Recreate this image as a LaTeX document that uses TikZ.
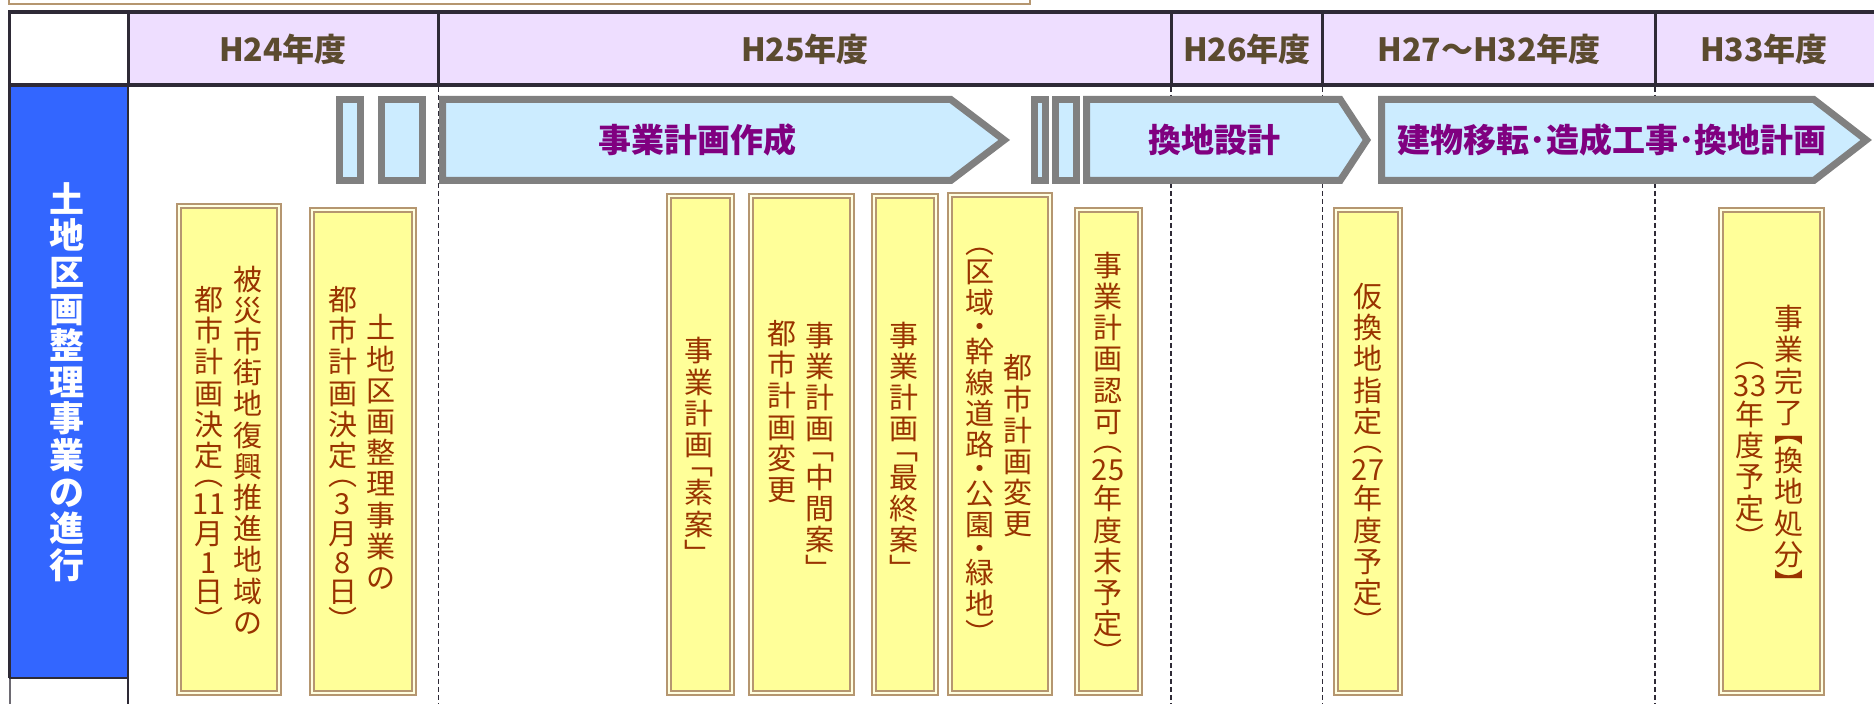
\documentclass[tikz,border=0pt]{standalone}
\usepackage{fontspec}
\newfontfamily\cjk{Noto Sans CJK JP}
\definecolor{yearlav}{HTML}{EEDEFF}
\definecolor{yearbrown}{HTML}{5B4B2F}
\definecolor{colblue}{HTML}{3366FF}
\definecolor{bargray}{HTML}{808080}
\definecolor{barblue}{HTML}{CCECFF}
\definecolor{barpurple}{HTML}{800080}
\definecolor{notetan}{HTML}{B59670}
\definecolor{notelight}{HTML}{FFFFE0}
\definecolor{noteyellow}{HTML}{FFFF99}
\definecolor{notebrown}{HTML}{993300}
\definecolor{gridgray}{HTML}{2E2A36}

\begin{document}
\begin{tikzpicture}[x=0.5pt,y=0.5pt,yscale=-1,every node/.style={inner sep=0pt},
	yeartext/.style={font=\cjk\bfseries\fontsize{16}{16}\selectfont,text=yearbrown},
	barline/.style={draw=bargray,fill=barblue,line width=3.5pt,line join=miter},
	bartext/.style={font=\cjk\bfseries\fontsize{16.5}{16.5}\selectfont,text=barpurple},
	notebox/.style={draw=notetan,double=notelight,double distance=0.75pt,line width=1pt,fill=noteyellow},
	notetext/.style={font=\cjk\fontsize{14.5}{15.6}\selectfont,text=notebrown,align=center},
	yearline/.style={draw=gridgray,line width=0.6pt,dash pattern=on 2.5pt off 1.5pt}]
			\useasboundingbox (0,0) rectangle (1874,704);
			\fill[white] (0,0) rectangle (1874,704);
			\draw[notetan,line width=1.2pt] (9,-10) rectangle (1030,4);
			
			\fill[yearlav] (128,12) rectangle (1874,85);
			\fill[colblue] (9,85) rectangle (128,678);
			\draw[yearline] (438.5,87) -- (438.5,704);
			\draw[yearline] (1171,87) -- (1171,704);
			\draw[yearline] (1322.5,87) -- (1322.5,704);
			\draw[yearline] (1655,87) -- (1655,704);
			\draw[gridgray,line width=2pt] (8,12) -- (1874,12);
			\draw[gridgray,line width=2pt] (8,85) -- (1874,85);
			\draw[gridgray,line width=1.5pt] (9,12) -- (9,678);
			\draw[gridgray!70,line width=0.8pt] (10,678) -- (10,704);
			\draw[gridgray,line width=1.5pt] (128,12) -- (128,85);
			\draw[gridgray,line width=0.8pt] (128,85) -- (128,704);
			\draw[gridgray,line width=0.8pt] (9,678) -- (128,678);
			\draw[gridgray,line width=1.5pt] (438.5,12) -- (438.5,85);
			\draw[gridgray,line width=1.5pt] (1171,12) -- (1171,85);
			\draw[gridgray,line width=1.5pt] (1322.5,12) -- (1322.5,85);
			\draw[gridgray,line width=1.5pt] (1655,12) -- (1655,85);
			
			\draw[barline] (339.5,99.5) rectangle (360.5,180.5);
			\draw[barline] (381.5,99.5) rectangle (422.5,180.5);
			\draw[barline] (442.5,99.5) -- (950.8,99.5) -- (1004.2,140) -- (950.8,180.5) -- (442.5,180.5) -- cycle;
			\draw[barline] (1034.5,99.5) rectangle (1045.5,180.5);
			\draw[barline] (1055.5,99.5) rectangle (1076.5,180.5);
			\draw[barline] (1086.5,99.5) -- (1340.2,99.5) -- (1366.8,140) -- (1340.2,180.5) -- (1086.5,180.5) -- cycle;
			\draw[barline] (1381.5,99.5) -- (1813.8,99.5) -- (1866.2,140) -- (1813.8,180.5) -- (1381.5,180.5) -- cycle;
			
			\draw[notebox] (179,206) rectangle (279,693);
			\draw[notebox] (312,210) rectangle (414,693);
			\draw[notebox] (669,196) rectangle (732,693);
			\draw[notebox] (751,196) rectangle (852,693);
			\draw[notebox] (874,196) rectangle (936,693);
			\draw[notebox] (950,195) rectangle (1050,693);
			\draw[notebox] (1077,210) rectangle (1140,693);
			\draw[notebox] (1336,210) rectangle (1400,693);
			\draw[notebox] (1721,210) rectangle (1822,693);
			
			\node[yeartext] (h24) at (283,49) {H24年度};
			\node[yeartext] (h25) at (805,49) {H25年度};
			\node[yeartext] (h26) at (1247,49) {H26年度};
			\node[yeartext] (h27) at (1489,49) {H27～H32年度};
			\node[yeartext] (h33) at (1764,49) {H33年度};
			
			\node[font=\cjk\bfseries\fontsize{17.5}{18.3}\selectfont,text=white,align=center] (title) at (67,382) {土\\地\\区\\画\\整\\理\\事\\業\\の\\進\\行};
			
			\node[bartext] (plan) at (697,140) {事業計画作成};
			\node[bartext] (design) at (1214,140) {換地設計};
			\node[bartext] (works) at (1612,140) {建物移転･造成工事･換地計画};
			
			\node[notetext] (n1a) at (248,450) {被\\災\\市\\街\\地\\復\\興\\推\\進\\地\\域\\の};
			\node[notetext] (n1b) at (209,459) {都\\市\\計\\画\\決\\定\\[-6pt]︵\\[-1pt]11\\[-1pt]月\\[-1pt]1\\[-1pt]日\\[-1pt]︶};
			\node[notetext] (n2a) at (381,452) {土\\地\\区\\画\\整\\理\\事\\業\\の};
			\node[notetext] (n2b) at (343,459) {都\\市\\計\\画\\決\\定\\[-6pt]︵\\[-1pt]3\\[-1pt]月\\[-1pt]8\\[-1pt]日\\[-1pt]︶};
			\node[notetext] (n3) at (699,451) {事\\業\\計\\画\\[-6pt]﹁\\[-1pt]素\\案\\[-1pt]﹂};
			\node[notetext] (n4a) at (820,451) {事\\業\\計\\画\\[-6pt]﹁\\[-1pt]中\\間\\案\\[-1pt]﹂};
			\node[notetext,anchor=north] (n4b) at (782,320) {都\\市\\計\\画\\変\\更};
			\node[notetext] (n5) at (904,451) {事\\業\\計\\画\\[-6pt]﹁\\[-1pt]最\\終\\案\\[-1pt]﹂};
			\node[notetext] (n6a) at (1018,446) {都\\市\\計\\画\\変\\更};
			\node[notetext] (n6b) at (980,446) {︵\\[-1pt]区\\域\\[-3.5pt]・\\[-3.5pt]幹\\線\\道\\路\\[-3.5pt]・\\[-3.5pt]公\\園\\[-3.5pt]・\\[-3.5pt]緑\\地\\[-1pt]︶};
			\node[notetext] (n7) at (1108,458) {事\\業\\計\\画\\認\\可\\[-6pt]︵\\[-1pt]25\\[-1pt]年\\度\\末\\予\\定\\[-1pt]︶};
			\node[notetext] (n8) at (1368,458) {仮\\換\\地\\指\\定\\[-6pt]︵\\[-1pt]27\\[-1pt]年\\度\\予\\定\\[-1pt]︶};
			\node[notetext] (n9a) at (1789,450) {事\\業\\完\\了\\[-6pt]︻\\[-1pt]換\\地\\処\\分\\[-1pt]︼};
			\node[notetext] (n9b) at (1750,455) {︵\\[-1pt]33\\[-1pt]年\\度\\予\\定\\[-1pt]︶};
\end{tikzpicture}
\end{document}
